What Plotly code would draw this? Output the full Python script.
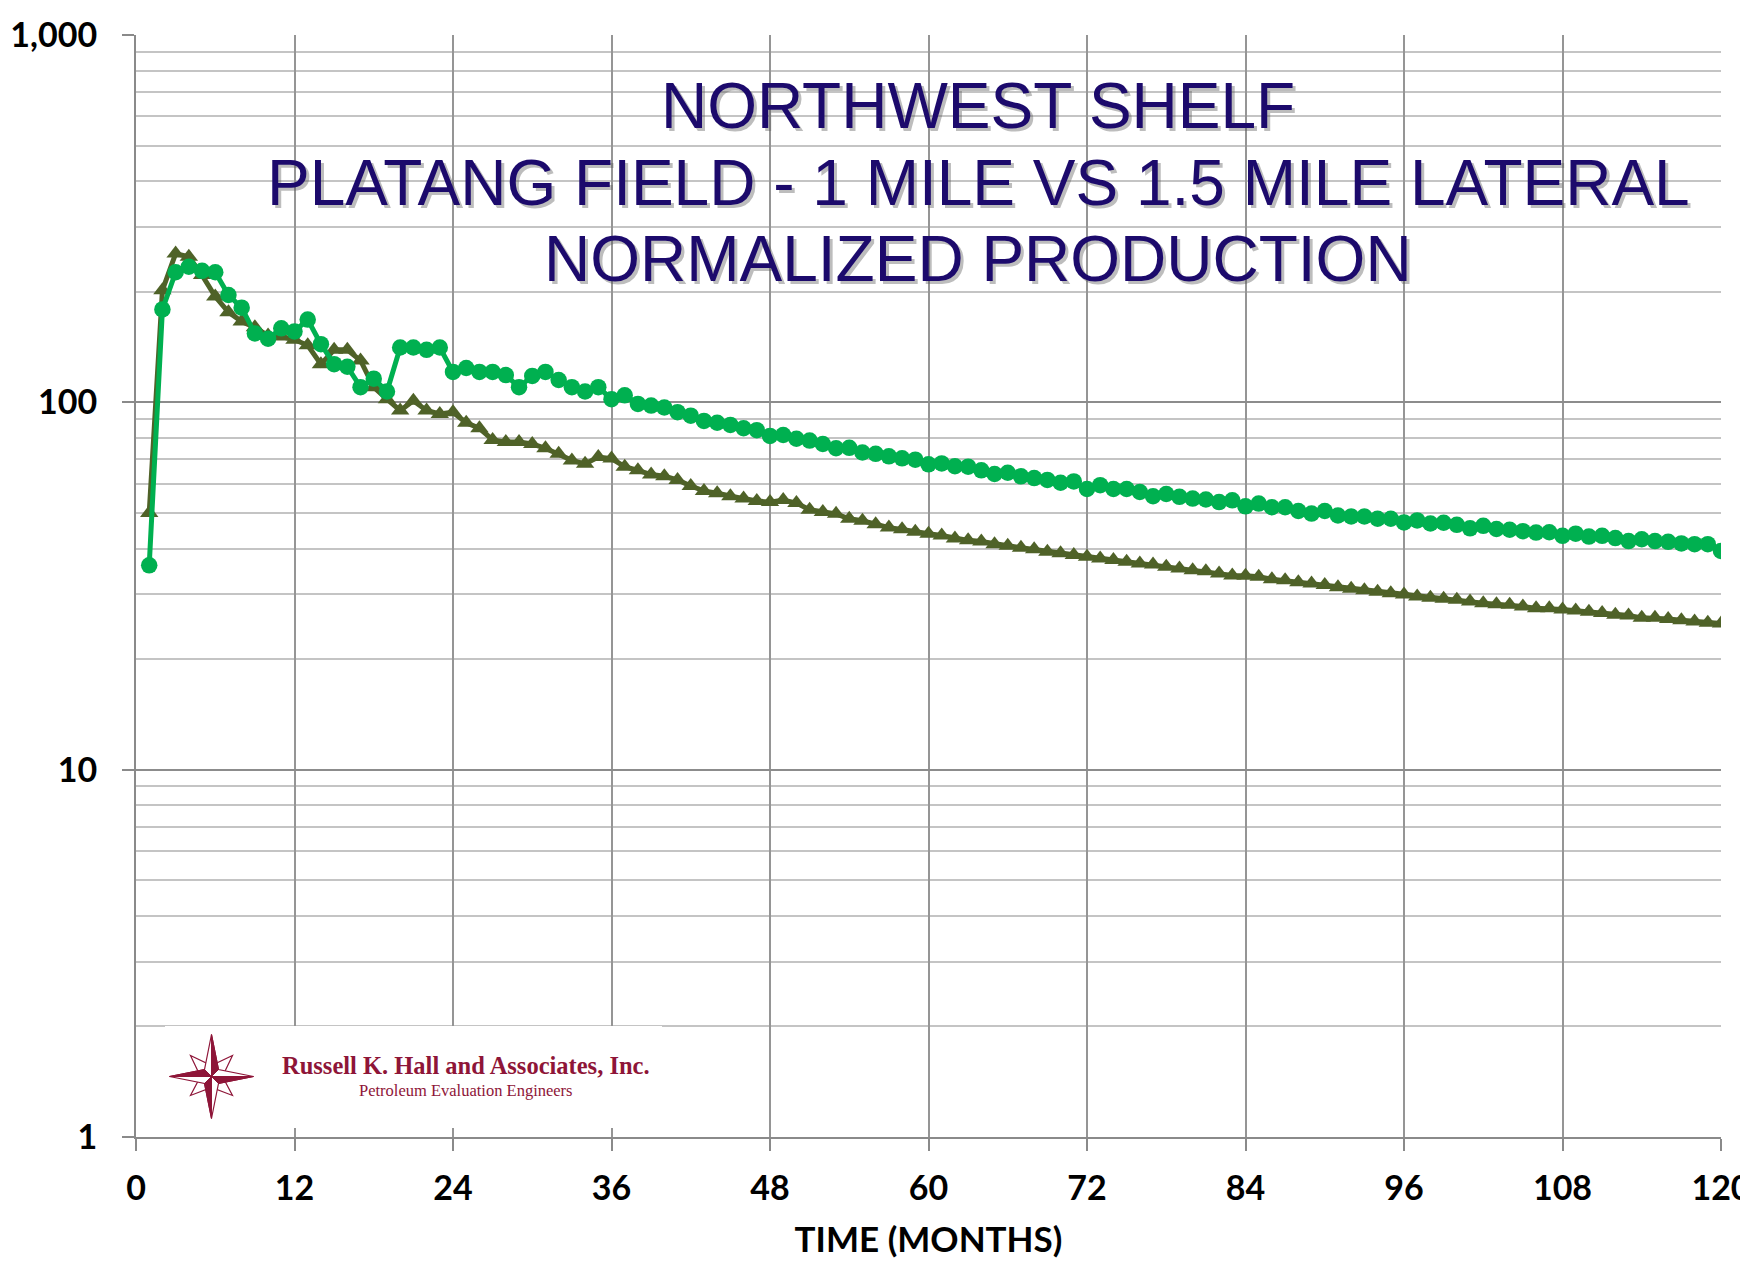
import plotly.graph_objects as go

# ---------------- data ----------------
months = list(range(1, 121))

lateral_15_mile = [
    36, 179, 226, 234, 228, 226, 196, 181, 154, 149,
    159, 156, 168, 144, 127, 125, 110, 116, 107, 141,
    141, 139, 141, 121, 124, 121, 121, 118.6, 110, 118,
    121, 115, 110, 107, 110, 102, 104.5, 99, 98, 96.8,
    94, 92, 89, 88, 86.8, 85, 84, 81, 81.5, 79.6,
    78.7, 77, 75, 75.2, 73, 72.4, 71.3, 70.4, 69.8, 67.8,
    68.2, 67, 66.8, 65.3, 63.8, 64.3, 62.9, 62.2, 61.5, 60.4,
    60.9, 58.1, 59.5, 58.1, 58.1, 57, 55.5, 56.3, 55.3, 54.7,
    54.4, 53.5, 54.1, 52.1, 53, 51.8, 51.8, 50.6, 49.8, 50.6,
    49.2, 48.9, 48.9, 48.2, 48.2, 47.1, 47.7, 46.8, 47, 46.4,
    45.4, 46.1, 45.2, 45, 44.6, 44.2, 44.3, 43.3, 43.9, 43.1,
    43.3, 42.7, 41.9, 42.4, 41.9, 41.7, 41.3, 41.1, 41.1, 39.4,
]

lateral_1_mile = [
    50, 202, 254, 249, 222, 194, 176, 166, 160, 152,
    151, 148, 143, 127, 139, 139, 130, 110, 102, 95,
    101, 95, 93, 94, 88, 85, 79, 78, 78, 77,
    75, 72.4, 69.5, 68, 71, 70.3, 66.8, 65.3, 63.6, 62.9,
    61.5, 59.2, 57.4, 56.6, 55.5, 54.7, 53.9, 53.5, 54.2, 53.2,
    51, 50.3, 49.7, 48.2, 47.6, 46.6, 45.6, 45.1, 44.4, 43.9,
    43.4, 42.6, 42.1, 41.8, 41.1, 40.7, 40.2, 39.8, 39.2, 38.8,
    38.4, 38, 37.6, 37.2, 36.8, 36.4, 36.2, 35.7, 35.3, 34.9,
    34.7, 34.2, 33.8, 33.7, 33.5, 33, 32.8, 32.4, 32.1, 31.8,
    31.4, 31.1, 30.8, 30.5, 30.2, 30, 29.6, 29.4, 29.2, 29,
    28.7, 28.4, 28.2, 28.1, 27.8, 27.5, 27.5, 27.3, 27.1, 26.9,
    26.7, 26.4, 26.3, 25.9, 25.9, 25.7, 25.5, 25.3, 25.1, 25,
]

x_tick_vals = list(range(0, 121, 12))
y_tick_vals = [1, 10, 100, 1000]
y_tick_text = ["1", "10", "100", "1,000"]
y_minor_vals = [m * d for d in (1, 10, 100) for m in range(2, 10)]

title_lines = [
    "NORTHWEST SHELF",
    "PLATANG FIELD - 1 MILE VS 1.5 MILE LATERAL",
    "NORMALIZED PRODUCTION",
]
x_title = "TIME (MONTHS)"
logo_name = "Russell K. Hall and Associates, Inc."
logo_sub = "Petroleum Evaluation Engineers"

# ---------------- layout geometry ----------------
# the page body has an 8px default margin; work in page pixels and convert
OFF = 8
W, H = 1748 - OFF, 1268 - OFF
PL, PR, PT, PB = 136, 1721, 35, 1137          # plot area in page pixels
ML, MT = PL - OFF, PT - OFF
MR = W - (PR - OFF)
MB = H - (PB - OFF)
PW = PR - PL
PH = PB - PT

def px(xp, yp):
    """page pixel -> paper coords"""
    return (xp - PL) / PW, (PB - yp) / PH

GREEN = "#00B050"
OLIVE = "#4F6228"
TITLE_C = "#1C0A6C"
LOGO_C = "#8E1538"

fig = go.Figure()

fig.add_trace(go.Scatter(
    x=months, y=lateral_1_mile, mode="lines+markers", name="1 Mile Lateral",
    line=dict(color=OLIVE, width=5),
    marker=dict(symbol="triangle-up", size=16, color=OLIVE),
))
fig.add_trace(go.Scatter(
    x=months, y=lateral_15_mile, mode="lines+markers", name="1.5 Mile Lateral",
    line=dict(color=GREEN, width=5),
    marker=dict(symbol="circle", size=16.5, color=GREEN),
))

tick_font = dict(family="Lato", size=34, color="#000000", weight="bold")

fig.update_layout(
    width=W, height=H,
    margin=dict(l=ML, r=MR, t=MT, b=MB, pad=0, autoexpand=False),
    paper_bgcolor="white", plot_bgcolor="white",
    showlegend=False,
    xaxis=dict(
        range=[0, 120], tickvals=x_tick_vals, tickfont=tick_font,
        showgrid=True, gridcolor="#959595", gridwidth=2,
        showline=True, linecolor="#8a8a8a", linewidth=2,
        ticks="outside", ticklen=12, tickwidth=2, tickcolor="#8a8a8a",
        ticklabelstandoff=8, ticklabeloverflow="allow",
        zeroline=False, automargin=False,
        title=dict(text=x_title, font=dict(family="Lato", size=35, color="#000", weight="bold"), standoff=22),
    ),
    yaxis=dict(
        type="log", range=[0, 3], tickvals=y_tick_vals, ticktext=y_tick_text,
        tickfont=tick_font,
        showgrid=True, gridcolor="#8c8c8c", gridwidth=2,
        showline=True, linecolor="#8a8a8a", linewidth=2,
        ticks="outside", ticklen=12, tickwidth=2, tickcolor="#8a8a8a",
        ticklabelstandoff=18, ticklabeloverflow="allow",
        zeroline=False, automargin=False,
        minor=dict(tickmode="array", tickvals=y_minor_vals, showgrid=True,
                   gridcolor="#c4c4c4", gridwidth=2, ticks=""),
    ),
)

# ---------------- title (with soft shadow) ----------------
title_centers = [106, 183, 259]
cx = 978
for txt, cy in zip(title_lines, title_centers):
    for dx, dy, col in ((3, 3, "rgba(90,90,90,0.40)"), (0, 0, TITLE_C)):
        xp, yp = px(cx + dx, cy + dy)
        fig.add_annotation(
            x=xp, y=yp, xref="paper", yref="paper", text=txt, showarrow=False,
            xanchor="center", yanchor="middle",
            font=dict(family="Liberation Sans, Arial", size=64, color=col),
        )

# ---------------- logo box ----------------
x0, y0 = px(165, 1026)
x1, y1 = px(662, 1128)
fig.add_shape(type="rect", xref="paper", yref="paper", x0=x0, y0=y1, x1=x1, y1=y0,
              fillcolor="white", line=dict(width=0), layer="above")

def poly(points, cxp, cyp):
    s = ""
    for i, (a, b) in enumerate(points):
        xp, yp = px(cxp + a, cyp + b)
        s += ("M" if i == 0 else "L") + f"{xp:.5f},{yp:.5f} "
    return s + "Z"

scx, scy = 211.5, 1076.5
# diagonal secondary star (outlined)
diag = [(0, -11), (21, -21), (11, 0), (21, 19), (0, 11), (-21, 19), (-11, 0), (-21, -21)]
fig.add_shape(type="path", xref="paper", yref="paper", path=poly(diag, scx, scy),
              fillcolor="white", line=dict(color=LOGO_C, width=1.2), layer="above")
# main star outline
main = [(0, -42), (7, -7), (42, 0), (7, 7), (0, 42), (-7, 7), (-42, 0), (-7, -7)]
fig.add_shape(type="path", xref="paper", yref="paper", path=poly(main, scx, scy),
              fillcolor="white", line=dict(color=LOGO_C, width=1.2), layer="above")
# pinwheel shaded halves
halves = [
    [(0, 0), (0, -42), (7, -7)],
    [(0, 0), (42, 0), (7, 7)],
    [(0, 0), (0, 42), (-7, 7)],
    [(0, 0), (-42, 0), (-7, -7)],
]
for hpts in halves:
    fig.add_shape(type="path", xref="paper", yref="paper", path=poly(hpts, scx, scy),
                  fillcolor=LOGO_C, line=dict(color=LOGO_C, width=1), layer="above")

lx, ly = px(466, 1065)
fig.add_annotation(x=lx, y=ly, xref="paper", yref="paper", text=f"<b>{logo_name}</b>",
                   showarrow=False, xanchor="center", yanchor="middle",
                   font=dict(family="Liberation Serif, Times New Roman", size=24.5, color=LOGO_C))
lx, ly = px(466, 1090)
fig.add_annotation(x=lx, y=ly, xref="paper", yref="paper", text=logo_sub,
                   showarrow=False, xanchor="center", yanchor="middle",
                   font=dict(family="Liberation Serif, Times New Roman", size=16.5, color=LOGO_C))

fig.write_html("out.html")
